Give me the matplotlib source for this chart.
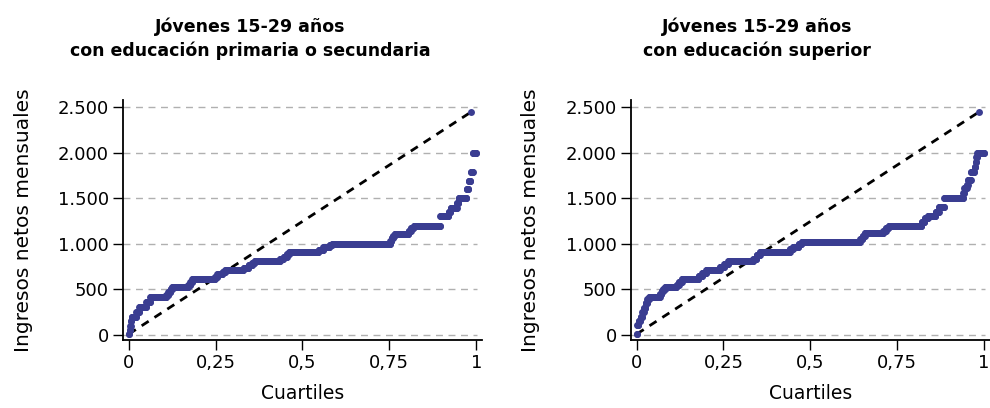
import numpy as np
import matplotlib
matplotlib.use('Agg')
import matplotlib.pyplot as plt
from matplotlib.ticker import FuncFormatter

# income levels (sorted) and cumulative share at which each level ends
left_levels = [10, 50, 100, 150, 201, 250, 311, 360, 413, 440, 470, 500, 523, 550, 580,
               615, 640, 666, 690, 713, 740, 768, 790, 812, 835, 860, 885, 907, 935, 970,
               985, 1000, 1030, 1060, 1085, 1109, 1140, 1170, 1200, 1306, 1350, 1390, 1450,
               1507, 1606, 1694, 1785, 1998]
left_cum = [0.002, 0.004, 0.006, 0.008, 0.022, 0.030, 0.050, 0.062, 0.108, 0.114, 0.120, 0.125,
            0.171, 0.177, 0.183, 0.248, 0.255, 0.270, 0.278, 0.330, 0.345, 0.355, 0.362, 0.435,
            0.445, 0.455, 0.462, 0.546, 0.560, 0.578, 0.585, 0.752, 0.756, 0.760, 0.765, 0.805,
            0.812, 0.820, 0.896, 0.920, 0.926, 0.944, 0.949, 0.972, 0.978, 0.984, 0.990, 1.000]
left_max = (0.986, 2451)

right_levels = [10, 110, 150, 200, 250, 300, 350, 390, 421, 450, 480, 500, 523, 550, 580,
                615, 645, 680, 713, 745, 780, 812, 840, 875, 907, 940, 970, 995, 1024, 1055,
                1085, 1116, 1145, 1170, 1196, 1240, 1280, 1306, 1350, 1401, 1507, 1560, 1610,
                1650, 1700, 1792, 1850, 1900, 1950, 2000]
right_cum = [0.002, 0.006, 0.011, 0.016, 0.021, 0.026, 0.031, 0.036, 0.067, 0.072, 0.077, 0.082,
             0.115, 0.122, 0.130, 0.178, 0.189, 0.200, 0.240, 0.252, 0.264, 0.336, 0.345, 0.355,
             0.441, 0.450, 0.466, 0.475, 0.643, 0.650, 0.657, 0.710, 0.717, 0.725, 0.820, 0.829,
             0.838, 0.860, 0.870, 0.885, 0.940, 0.943, 0.950, 0.953, 0.962, 0.972, 0.975, 0.977,
             0.980, 1.000]
right_max = (0.986, 2451)

titles = ['Jóvenes 15-29 años\ncon educación primaria o secundaria',
          'Jóvenes 15-29 años\ncon educación superior']
yticks = [0, 500, 1000, 1500, 2000, 2500]
xticks = [0, 0.25, 0.5, 0.75, 1]
xticklabels = ['0', '0,25', '0,5', '0,75', '1']

dot_color = '#3a3d91'
N = 1000

plt.rcParams['font.family'] = ['DejaVu Sans']

fig = plt.figure(figsize=(9.9, 4.08), dpi=100)
ax1 = fig.add_axes([0.124, 0.1667, 0.363, 0.588])
ax2 = fig.add_axes([0.637, 0.1667, 0.363, 0.588])


def draw(ax, levels, cum, top, title, tx):
    edges = np.round(np.array(cum) * N).astype(int)
    counts = np.diff(np.concatenate([[0], edges]))
    vals = np.repeat(levels, counts)
    q = (np.arange(len(vals)) + 0.5) / len(vals)
    for y in yticks:
        ax.axhline(y, xmin=0.0, xmax=0.985, color='#b0b0b0', lw=1, ls=(0, (5, 4)), zorder=0)
    ax.plot([q[0], top[0]], [vals[0], top[1]], color='black', lw=2, ls=(0, (3, 2.5)), zorder=2)
    ax.plot(q, vals, 'o', color=dot_color, ms=5.0, mec='none', zorder=3)
    ax.plot([top[0]], [top[1]], 'o', color=dot_color, ms=5.0, mec='none', zorder=3)
    ax.set_xlim(-0.017, 1.017)
    ax.set_ylim(-55, 2580)
    ax.set_yticks(yticks)
    ax.yaxis.set_major_formatter(FuncFormatter(lambda v, p: f'{int(v):,}'.replace(',', '.')))
    ax.set_xticks(xticks)
    ax.set_xticklabels(xticklabels)
    ax.tick_params(labelsize=13, length=7, width=1, colors='black', pad=3)
    for s in ['top', 'right']:
        ax.spines[s].set_visible(False)
    for s in ['left', 'bottom']:
        ax.spines[s].set_linewidth(1.3)
    ax.set_ylabel('Ingresos netos mensuales', fontsize=14.5, labelpad=18)
    ax.set_xlabel('Cuartiles', fontsize=13.5, labelpad=9)
    fig.text(tx, 0.905, title, ha='center', va='center', fontsize=12.5,
             fontweight='semibold', linespacing=1.35)


draw(ax1, left_levels, left_cum, left_max, titles[0], 250 / 990)
draw(ax2, right_levels, right_cum, right_max, titles[1], 757 / 990)

fig.savefig('out.png', dpi=100)
